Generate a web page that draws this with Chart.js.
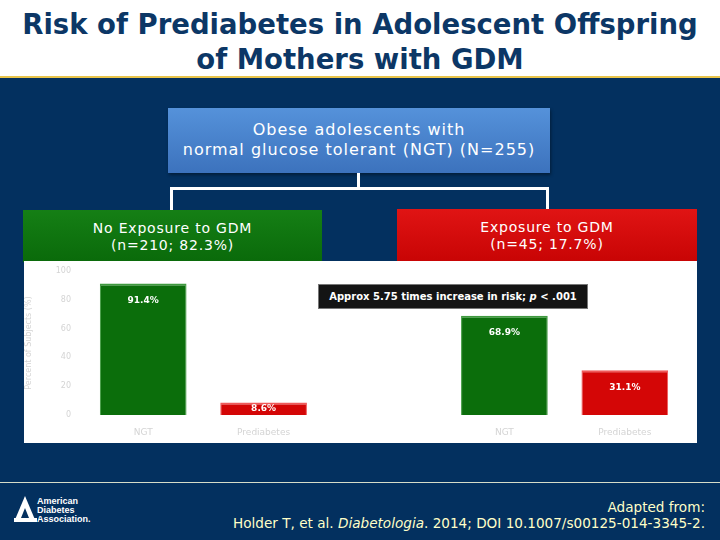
<!DOCTYPE html>
<html lang="en">
<head>
    <meta charset="UTF-8">
    <title>Risk of Prediabetes in Adolescent Offspring of Mothers with GDM</title>
    <script src="https://cdn.jsdelivr.net/npm/chart.js"></script>
    <style>
        body {
            margin: 0;
            width: 720px;
            height: 540px;
            overflow: hidden;
            background: #03305f;
            font-family: "DejaVu Sans", Verdana, sans-serif;
            position: relative;
        }
        .header {
            position: absolute;
            left: 0; top: 0;
            width: 720px; height: 78px;
            background: #fff;
            border-bottom: 2px solid #e8c44a;
            text-align: center;
            color: #0c3766;
            font-weight: bold;
            font-size: 27.5px;
            line-height: 35px;
            padding-top: 7px;
            box-sizing: border-box;
            white-space: nowrap;
        }
        .box {
            position: absolute;
            color: #fff;
            text-align: center;
            box-sizing: border-box;
            white-space: nowrap;
        }
        .top-box {
            left: 168px; top: 108px; width: 382px; height: 65px;
            background: linear-gradient(#5592da, #3c72bd);
            font-size: 16px;
            letter-spacing: 1px;
            line-height: 20px;
            padding-top: 12px;
            box-shadow: 1px 2px 3px rgba(0,0,0,0.4);
        }
        .green-box {
            left: 23px; top: 210px; width: 299px; height: 52px;
            background: linear-gradient(#157f15, #0a6a0a);
            font-size: 14px;
            letter-spacing: 0.8px;
            line-height: 17px;
            padding-top: 10px;
        }
        .red-box {
            left: 397px; top: 209px; width: 300px; height: 53px;
            background: linear-gradient(#e01414, #c80404);
            font-size: 14px;
            letter-spacing: 0.8px;
            line-height: 17px;
            padding-top: 10px;
        }
        .line { position: absolute; background: #fff; }
        .chart-wrap {
            position: absolute;
            left: 24px; top: 261px; width: 673px; height: 182px;
            background: #fff;
            overflow: hidden;
        }
        .chart-wrap canvas { display: block; }
        .note {
            position: absolute;
            left: 318px; top: 284px; width: 270px; height: 25px;
            background: #141414;
            border: 1px solid #777;
            box-sizing: border-box;
            color: #fff;
            font-weight: bold;
            font-size: 10px;
            line-height: 23px;
            text-align: center;
        }
        .footer-line {
            position: absolute;
            left: 0; top: 482px; width: 720px; height: 1px;
            background: #d6dcc8;
        }
        .logo {
            position: absolute;
            left: 14px; top: 496px;
            color: #fff;
        }
        .logo-text {
            position: absolute;
            left: 23px; top: 1px;
            font-family: "Liberation Sans", Arial, sans-serif;
            font-weight: bold;
            font-size: 9px;
            line-height: 9px;
            white-space: nowrap;
        }
        .cite {
            position: absolute;
            right: 15px; top: 499px;
            color: #ffffc8;
            text-align: right;
            font-size: 13.6px;
            line-height: 16px;
            white-space: nowrap;
        }
    </style>
</head>
<body>
    <div class="header">Risk of Prediabetes in Adolescent Offspring<br>of Mothers with GDM</div>

    <div class="box top-box">Obese adolescents with<br>normal glucose tolerant (NGT) (N=255)</div>
    <div class="line" style="left:357px; top:173px; width:3px; height:16px;"></div>
    <div class="line" style="left:170px; top:187px; width:379px; height:3px;"></div>
    <div class="line" style="left:170px; top:187px; width:3px; height:23px;"></div>
    <div class="line" style="left:546px; top:187px; width:3px; height:22px;"></div>

    <div class="box green-box">No Exposure to GDM<br>(n=210; 82.3%)</div>
    <div class="box red-box">Exposure to GDM<br>(n=45; 17.7%)</div>

    <div class="chart-wrap">
        <canvas id="riskChart" width="673" height="182"></canvas>
    </div>
    <div class="note">Approx 5.75 times increase in risk; <i>p</i> &lt; .001</div>

    <div class="footer-line"></div>
    <div class="logo">
        <svg width="26" height="28" viewBox="0 0 26 28">
            <polygon points="11,0 22,26 0,26" fill="#fff"/>
            <polygon points="11,12 15,22 7,22" fill="#03305f"/>
            <rect x="0" y="22" width="23" height="4" fill="#fff"/>
        </svg>
        <div class="logo-text">American<br>Diabetes<br>Association.</div>
    </div>
    <div class="cite">Adapted from:<br>Holder T, et al. <i>Diabetologia</i>. 2014; DOI 10.1007/s00125-014-3345-2.</div>

    <script>
        // categories: two groups (no exposure / exposure) with a blank slot between
        const categories = ['NGT', 'Prediabetes', '', 'NGT', 'Prediabetes'];
        const percentValues = [91.4, 8.6, null, 68.9, 31.1];
        const barColors = ['#0b6e0b', '#d40606', '#fff', '#0b6e0b', '#d40606'];
        const yTicks = [0, 20, 40, 60, 80, 100];

        const valueLabels = {
            id: 'valueLabels',
            afterDatasetsDraw(chart) {
                const ctx = chart.ctx;
                const meta = chart.getDatasetMeta(0);
                ctx.save();
                ctx.fillStyle = '#fff';
                ctx.font = 'bold 9px "DejaVu Sans", Verdana, sans-serif';
                ctx.textAlign = 'center';
                ctx.textBaseline = 'middle';
                meta.data.forEach((bar, i) => {
                    const v = percentValues[i];
                    if (v === null) return;
                    // near the top of tall bars, centred in short ones
                    const y = Math.min(bar.y + 17, (bar.y + bar.base) / 2);
                    ctx.fillText(v.toFixed(1) + '%', bar.x, y);
                });
                ctx.restore();
            }
        };

        new Chart(document.getElementById('riskChart'), {
            type: 'bar',
            data: {
                labels: categories,
                datasets: [{
                    data: percentValues,
                    backgroundColor: barColors,
                    borderColor: barColors.map(c => c === '#0b6e0b' ? '#3f9a3f' : '#f05a5a'),
                    borderWidth: { top: 2, left: 1, right: 1, bottom: 0 },
                    barPercentage: 0.72,
                    categoryPercentage: 1
                }]
            },
            options: {
                responsive: false,
                animation: false,
                layout: { padding: { top: 0, right: 12, bottom: 0, left: 0 } },
                plugins: {
                    legend: { display: false },
                    tooltip: { enabled: false }
                },
                scales: {
                    x: {
                        grid: { display: false, drawTicks: false },
                        border: { display: false },
                        afterFit: scale => { scale.height = 28; },
                        ticks: {
                            color: '#d4d4d4',
                            font: { size: 9, family: 'DejaVu Sans' },
                            padding: 12,
                            maxRotation: 0
                        }
                    },
                    y: {
                        min: 0,
                        max: 100,
                        afterBuildTicks: scale => { scale.ticks = yTicks.map(v => ({ value: v })); },
                        afterFit: scale => {
                            scale.width = 59;
                            scale.paddingTop = 10;
                            scale.paddingBottom = 0;
                        },
                        grid: { display: false, drawTicks: false },
                        border: { display: false },
                        title: {
                            display: true,
                            text: 'Percent of Subjects (%)',
                            color: '#d4d4d4',
                            font: { size: 8, family: 'DejaVu Sans' },
                            padding: 0
                        },
                        ticks: {
                            color: '#d4d4d4',
                            font: { size: 8, family: 'DejaVu Sans' },
                            padding: 12
                        }
                    }
                }
            },
            plugins: [valueLabels]
        });
    </script>
</body>
</html>
